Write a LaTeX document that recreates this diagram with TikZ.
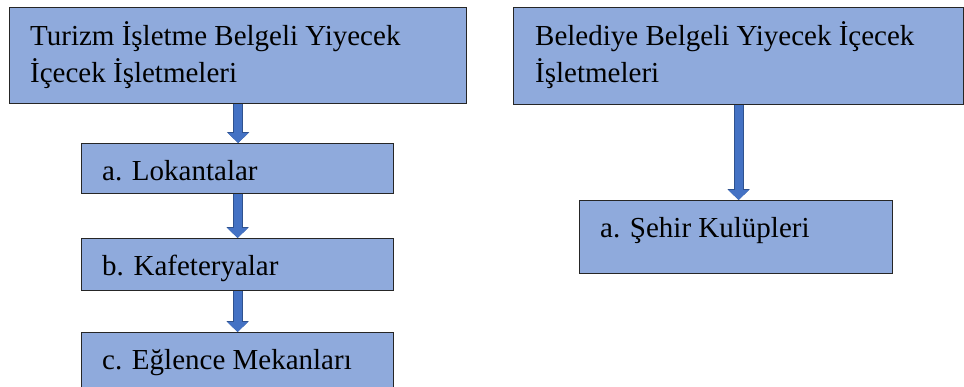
\documentclass[tikz,border=0pt]{standalone}
\usepackage{fontspec}
\setmainfont{Liberation Serif}
\usetikzlibrary{arrows.meta}

\definecolor{kutumavi}{HTML}{8FAADC}
\definecolor{okmavi}{HTML}{4472C4}
\definecolor{okkenar}{HTML}{2F528F}

\begin{document}
\begin{tikzpicture}[x=1pt, y=-1pt,
    kutu/.style={draw=black!85, line width=1.2pt, fill=kutumavi, anchor=north west, inner sep=0pt},
    yazi/.style={anchor=base west, inner sep=0pt, align=left, font=\fontsize{29}{37}\selectfont},
    ok/.style={line width=8pt, draw=okmavi, -{Triangle[width=20pt,length=10pt]},
        preaction={draw=okkenar, line width=10pt, -{Triangle[width=22pt,length=11pt]}}}]
    \clip (0,0) rectangle (964,386);
    % sol sutun
    \node[kutu, minimum width=457pt, minimum height=96pt] (turizm) at (9,7) {};
    \node[kutu, minimum width=312pt, minimum height=50pt] (lokanta) at (81,143) {};
    \node[kutu, minimum width=312pt, minimum height=52pt] (kafe) at (81,238) {};
    \node[kutu, minimum width=312pt, minimum height=80pt] (eglence) at (81,332) {};
    % sag sutun
    \node[kutu, minimum width=450pt, minimum height=97pt] (belediye) at (513,7) {};
    \node[kutu, minimum width=313pt, minimum height=73pt] (sehir) at (579,200) {};

    % iki satirli yazilarda base son satirda
    \node[yazi] (turizmyazi) at ([shift={(21,75)}]turizm.north west) {Turizm İşletme Belgeli Yiyecek\\İçecek İşletmeleri};
    \node[yazi] (lokantayazi) at ([shift={(21,37)}]lokanta.north west) {a. Lokantalar};
    \node[yazi] (kafeyazi) at ([shift={(21,37)}]kafe.north west) {b. Kafeteryalar};
    \node[yazi] (eglenceyazi) at ([shift={(21,37)}]eglence.north west) {c. Eğlence Mekanları};
    \node[yazi] (belediyeyazi) at ([shift={(22,75)}]belediye.north west) {Belediye Belgeli Yiyecek İçecek\\İşletmeleri};
    \node[yazi] (sehiryazi) at ([shift={(21,37)}]sehir.north west) {a. Şehir Kulüpleri};

    \draw[ok] (turizm.south) -- (turizm.south |- lokanta.north);
    \draw[ok] (lokanta.south) -- (lokanta.south |- kafe.north);
    \draw[ok] (kafe.south) -- (kafe.south |- eglence.north);
    \draw[ok] (belediye.south) -- (belediye.south |- sehir.north);
\end{tikzpicture}
\end{document}
